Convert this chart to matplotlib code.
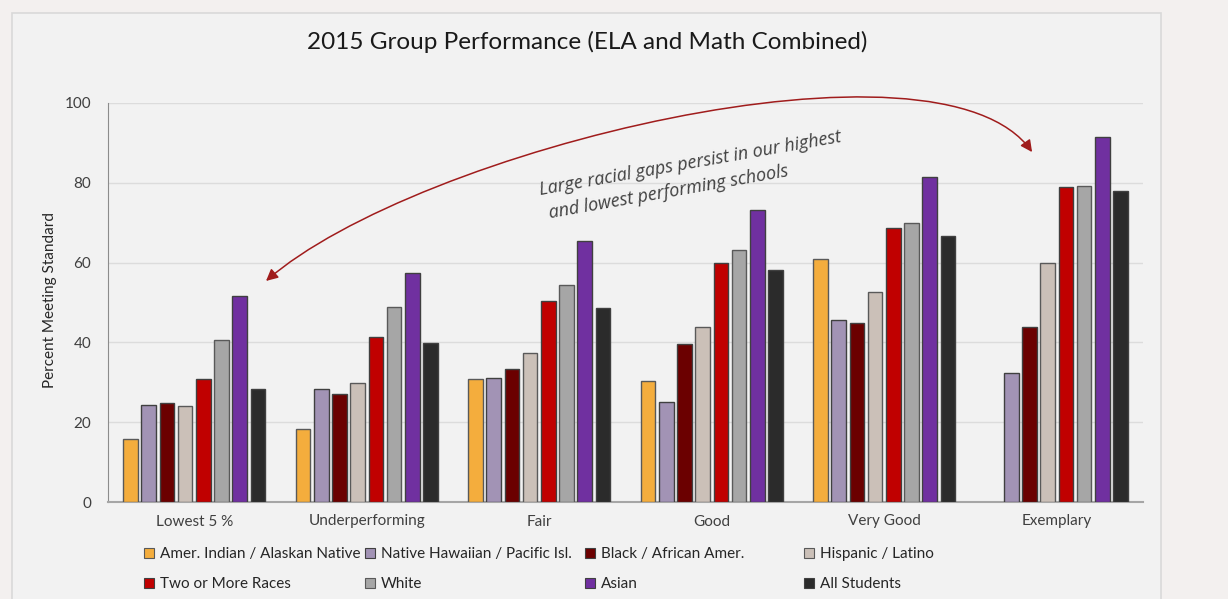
import matplotlib.pyplot as plt
import matplotlib.patches as mpatches
from matplotlib.path import Path
import numpy as np

# data
categories = ['Lowest 5 %', 'Underperforming', 'Fair', 'Good', 'Very Good', 'Exemplary']
groups = ['Amer. Indian / Alaskan Native', 'Native Hawaiian / Pacific Isl.',
          'Black / African Amer.', 'Hispanic / Latino', 'Two or More Races',
          'White', 'Asian', 'All Students']
amer_indian = [15.9, 18.2, 30.9, 30.4, 61.0, np.nan]
hawaiian = [24.3, 28.3, 31.2, 25.1, 45.7, 32.3]
black = [24.9, 27.0, 33.3, 39.7, 44.9, 43.9]
hispanic = [24.1, 29.9, 37.3, 43.9, 52.6, 60.0]
two_more = [30.9, 41.4, 50.5, 60.0, 68.7, 79.0]
white = [40.7, 48.9, 54.4, 63.2, 70.0, 79.3]
asian = [51.6, 57.4, 65.5, 73.2, 81.4, 91.4]
all_students = [28.3, 39.9, 48.7, 58.2, 66.7, 78.0]
series = [amer_indian, hawaiian, black, hispanic, two_more, white, asian, all_students]

colors = ['#f4ad3d', '#a293b5', '#6b0000', '#cbc0b8', '#c00000', '#a6a6a6', '#7030a0', '#2b2b2b']
edges = ['#595959', '#404040', '#404040', '#595959', '#404040', '#595959', '#404040', '#404040']

plt.rcParams['font.family'] = ['Lato', 'DejaVu Sans']

fig = plt.figure(figsize=(12.28, 5.99), dpi=100, facecolor='#f3f0ef')
# chart area box
fig.patches.append(mpatches.Rectangle((12 / 1228, -0.05), 1149 / 1228, 1.05 - 13 / 599,
                                      transform=fig.transFigure, facecolor='#f2f2f2',
                                      edgecolor='#d9d9d9', linewidth=1.2, zorder=-10))

ax = fig.add_axes([108 / 1228, 97 / 599, 1035 / 1228, 399 / 599])
ax.set_facecolor('none')

x = np.arange(len(categories))
step = 0.1055
width = 0.085
for i, (vals, c, ec) in enumerate(zip(series, colors, edges)):
    ax.bar(x + (i - 3.5) * step, vals, width, color=c, edgecolor=ec, linewidth=1, label=groups[i], zorder=3)

ax.set_xlim(-0.5, 5.5)
ax.set_ylim(0, 100)
ax.set_yticks([0, 20, 40, 60, 80, 100])
ax.set_xticks(x)
ax.set_xticklabels(categories)
ax.tick_params(axis='both', length=0, labelsize=11, colors='#404040')
ax.tick_params(axis='x', pad=9)
ax.tick_params(axis='y', pad=12)
ax.grid(axis='y', color='#dcdcdc', linewidth=1, zorder=0)
for s in ['top', 'right']:
    ax.spines[s].set_visible(False)
ax.spines['left'].set_color('#8c8c8c')
ax.spines['bottom'].set_color('#a6a6a6')
ax.spines['bottom'].set_linewidth(1.5)

fig.text(0.478, 1 - 42 / 599, '2015 Group Performance (ELA and Math Combined)',
         ha='center', va='center', fontsize=17.5, color='#1a1a1a')
fig.text(50 / 1228, 0.5, 'Percent Meeting Standard', rotation=90, ha='center', va='center',
         fontsize=11, color='#262626')

# curved double arrow
verts = [(0.416, 55.4), (1.286, 88.2), (4.323, 120.5), (4.857, 87.7)]
arrow = mpatches.FancyArrowPatch(path=Path(verts, [Path.MOVETO, Path.CURVE4, Path.CURVE4, Path.CURVE4]),
                                 arrowstyle='<|-|>,head_length=7,head_width=3.5',
                                 color='#a01c1c', linewidth=1.1, clip_on=False, zorder=5)
ax.add_patch(arrow)
ax.text(2.89, 81.8, 'Large racial gaps persist in our highest\n and lowest performing schools',
        rotation=10, ha='center', va='center', multialignment='left', fontsize=13,
        style='italic', family=['Open Sans', 'DejaVu Sans'], color='#404040',
        linespacing=1.4, rotation_mode='anchor')

# legend, four columns of two rows
handles = [mpatches.Patch(facecolor=c, edgecolor=ec, linewidth=0.8) for c, ec in zip(colors, edges)]
col_x = [144 / 1228, 365 / 1228, 585 / 1228, 804 / 1228]
for j in range(4):
    leg = fig.legend([handles[j], handles[j + 4]], [groups[j], groups[j + 4]],
                     loc='upper left', bbox_to_anchor=(col_x[j], 1 - 547 / 599),
                     frameon=False, fontsize=11, borderpad=0, borderaxespad=0,
                     handlelength=0.65, handleheight=0.65, handletextpad=0.4,
                     labelspacing=1.05)
    for t in leg.get_texts():
        t.set_color('#262626')

fig.savefig('out.png', dpi=100, facecolor=fig.get_facecolor())
